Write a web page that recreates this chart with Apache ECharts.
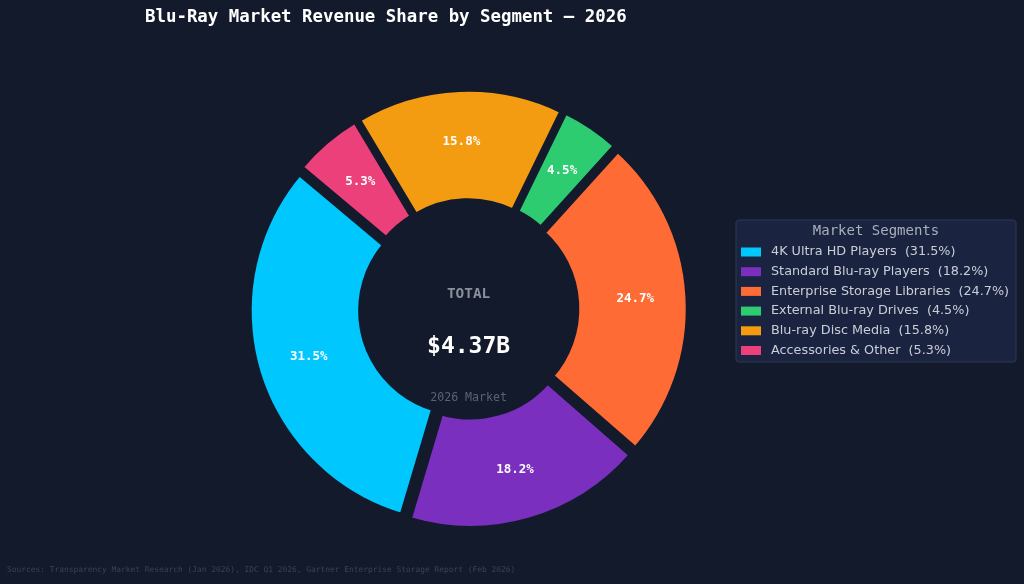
<!DOCTYPE html>
<html>
<head>
<meta charset="utf-8">
<script src="https://cdn.jsdelivr.net/npm/echarts@6/dist/echarts.min.js"></script>
<style>
  html, body { margin: 0; padding: 0; background: #131a2c; }
  #chart { width: 1024px; height: 584px; }
</style>
</head>
<body>
<div id="chart"></div>
<script>
const categories = [
  '4K Ultra HD Players',
  'Standard Blu-ray Players',
  'Enterprise Storage Libraries',
  'External Blu-ray Drives',
  'Blu-ray Disc Media',
  'Accessories & Other'
];
const shares = [31.5, 18.2, 24.7, 4.5, 15.8, 5.3];
const colors = ['#00C8FF', '#7B2FBE', '#FF6B35', '#2ECC71', '#F39C12', '#EC407A'];
const titleText = 'Blu-Ray Market Revenue Share by Segment \u2014 2026';
const centerLabels = ['TOTAL', '$4.37B', '2026 Market'];
const legendTitle = 'Market Segments';
const sourceText = 'Sources: Transparency Market Research (Jan 2026), IDC Q1 2026, Gartner Enterprise Storage Report (Feb 2026)';

const BG = '#131a2c';
const MONO = '"DejaVu Sans Mono", monospace';
const SANS = '"DejaVu Sans", sans-serif';
const CX = 468.6, CY = 309, R_OUT = 213.2, R_IN = 102.3, EXPLODE = 6.2, START = 140;

const total = shares.reduce((a, b) => a + b, 0);
let cum = 0;
const series = shares.map((v, i) => {
  const mid = (START + 360 * (cum + v / 2) / total) * Math.PI / 180;
  cum += v;
  const dx = EXPLODE * Math.cos(mid), dy = -EXPLODE * Math.sin(mid);
  return {
    type: 'pie',
    center: [CX + dx, CY + dy],
    radius: [R_IN, R_OUT],
    startAngle: START,
    clockwise: false,
    silent: true,
    avoidLabelOverlap: false,
    labelLine: { show: false },
    label: {
      position: 'inside',
      formatter: '{c}%',
      color: '#ffffff',
      fontFamily: MONO,
      fontWeight: 'bold',
      fontSize: 12.5
    },
    data: categories.map((name, j) => ({
      name: name,
      value: shares[j],
      itemStyle: j === i
        ? { color: colors[j], borderColor: BG, borderWidth: 4.5 }
        : { color: 'rgba(0,0,0,0)', borderWidth: 0 },
      label: { show: j === i }
    }))
  };
});

const chart = echarts.init(document.getElementById('chart'), null, { renderer: 'canvas' });
chart.setOption({
  backgroundColor: BG,
  animation: false,
  title: {
    text: titleText,
    left: 145,
    top: 7,
    padding: 0,
    textStyle: { color: '#ffffff', fontFamily: MONO, fontWeight: 'bold', fontSize: 17.4, lineHeight: 20 }
  },
  legend: {
    orient: 'vertical',
    left: 741,
    top: 244.5,
    padding: 0,
    itemGap: 4.7,
    itemWidth: 20,
    itemHeight: 9,
    icon: 'rect',
    selectedMode: false,
    data: categories.map((n, j) => ({ name: n, itemStyle: { color: colors[j], borderWidth: 0 } })),
    formatter: name => name + '  (' + shares[categories.indexOf(name)] + '%)',
    textStyle: { color: '#c9cdd6', fontFamily: SANS, fontSize: 12.8, lineHeight: 15, padding: [0, 0, 0, 5] }
  },
  graphic: [
    { type: 'rect', z: -1, silent: true, shape: { x: 736, y: 220, width: 280, height: 142, r: 3 },
      style: { fill: '#1a2440', stroke: '#2c3852', lineWidth: 1 } },
    { type: 'text', silent: true, x: 876, y: 231.5,
      style: { text: legendTitle, fill: '#a9afbb', font: '14px ' + MONO, textAlign: 'center', textVerticalAlign: 'middle' } },
    { type: 'text', silent: true, x: 468.6, y: 294,
      style: { text: centerLabels[0], fill: '#8a8f99', font: 'bold 14.4px ' + MONO, textAlign: 'center', textVerticalAlign: 'middle' } },
    { type: 'text', silent: true, x: 468.6, y: 347,
      style: { text: centerLabels[1], fill: '#ffffff', font: 'bold 23px ' + MONO, textAlign: 'center', textVerticalAlign: 'middle' } },
    { type: 'text', silent: true, x: 468.6, y: 398,
      style: { text: centerLabels[2], fill: '#5c6270', font: '11.6px ' + MONO, textAlign: 'center', textVerticalAlign: 'middle' } },
    { type: 'text', silent: true, x: 7, y: 570,
      style: { text: sourceText, fill: '#3b4254', font: '7.9px ' + MONO, textAlign: 'left', textVerticalAlign: 'middle' } }
  ],
  series: series
});
</script>
</body>
</html>
